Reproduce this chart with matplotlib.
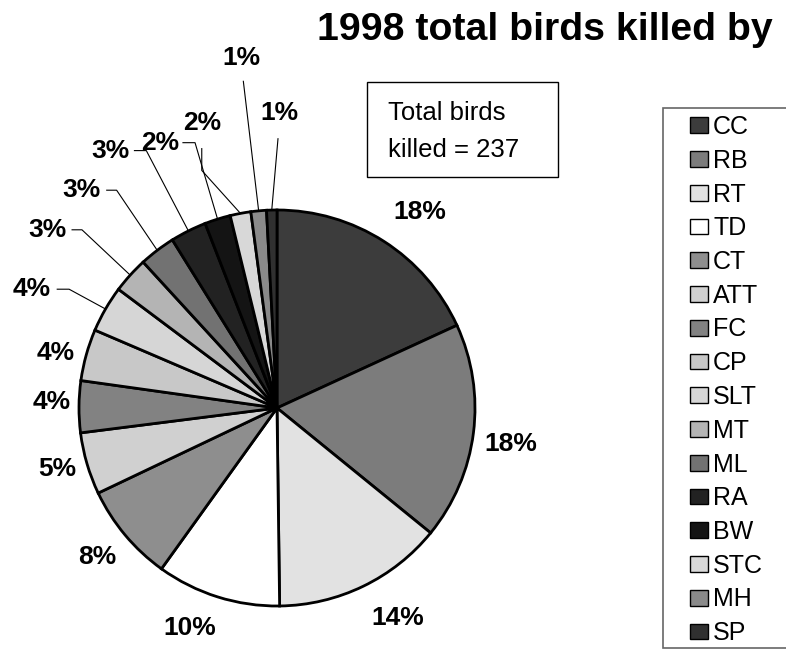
import numpy as np
import matplotlib
matplotlib.use("Agg")
import matplotlib.pyplot as plt
from matplotlib.patches import Rectangle, Patch

plt.rcParams['font.family'] = ['Liberation Sans', 'DejaVu Sans']

species = ['CC', 'RB', 'RT', 'TD', 'CT', 'ATT', 'FC', 'CP',
           'SLT', 'MT', 'ML', 'RA', 'BW', 'STC', 'MH', 'SP']
killed = [43, 42, 33, 24, 19, 12, 10, 10, 9, 7, 7, 7, 5, 4, 3, 2]
colors = ['#3c3c3c', '#7c7c7c', '#e2e2e2', '#ffffff', '#8e8e8e', '#d0d0d0',
          '#828282', '#c8c8c8', '#d6d6d6', '#b4b4b4', '#727272', '#222222',
          '#141414', '#d8d8d8', '#8a8a8a', '#303030']
total = sum(killed)

# label positions (pie radius units, center at 0,0) and leader start points
label_pos = [(0.72, 0.99), (1.18, -0.18), (0.61, -1.06), (-0.44, -1.11),
             (-0.91, -0.75), (-1.11, -0.31), (-1.14, 0.03), (-1.12, 0.28),
             (-1.24, 0.60), (-1.16, 0.90), (-0.99, 1.10), (-0.84, 1.30),
             (-0.59, 1.34), (-0.38, 1.44), (-0.18, 1.77), (0.01, 1.49)]
leaders = {8: [(-1.11, 0.60), (-1.05, 0.60)],
           9: [(-1.035, 0.90), (-0.985, 0.90)],
           10: [(-0.86, 1.10), (-0.81, 1.10)],
           11: [(-0.72, 1.30), (-0.66, 1.30)],
           12: [(-0.475, 1.34), (-0.414, 1.34)],
           13: [(-0.38, 1.31), (-0.38, 1.20)],
           14: [(-0.17, 1.65)],
           15: [(0.005, 1.36)]}

W, H = 786, 652
cx, cy, R = 277, 408, 198

fig = plt.figure(figsize=(W / 100, H / 100), dpi=100)
ax = fig.add_axes([0, 0, 1, 1])

wedges, _ = ax.pie(killed, colors=colors, startangle=90, counterclock=False,
                   radius=1.0, wedgeprops=dict(edgecolor='black', linewidth=2))
ax.set_aspect('auto')
ax.set_xlim(-cx / R, (W - cx) / R)
ax.set_ylim(-(H - cy) / R, cy / R)
ax.axis('off')

for i, w in enumerate(wedges):
    pct = round(100 * killed[i] / total)
    x, y = label_pos[i]
    ax.text(x, y, f'{pct}%', ha='center', va='center', fontsize=19,
            fontweight='bold')
    if i in leaders:
        mid = np.deg2rad((w.theta1 + w.theta2) / 2)
        pts = leaders[i] + [(np.cos(mid), np.sin(mid))]
        xs, ys = zip(*pts)
        ax.plot(xs, ys, color='black', linewidth=0.8)

fig.text(317 / W, 1 - 40 / H, '1998 total birds killed by', ha='left',
         va='baseline', fontsize=28.3, fontweight='bold')

fig.patches.append(Rectangle((367 / W, 1 - 177 / H), 191 / W, 95 / H,
                             transform=fig.transFigure, facecolor='white',
                             edgecolor='black', linewidth=1))
fig.text(388 / W, 1 - 120 / H, 'Total birds', ha='left', va='baseline',
         fontsize=18.5)
fig.text(388 / W, 1 - 157 / H, 'killed = 237', ha='left', va='baseline',
         fontsize=18.5)

fig.patches.append(Rectangle((663 / W, 1 - 648 / H), 200 / W, 540 / H,
                             transform=fig.transFigure, facecolor='white',
                             edgecolor='#666666', linewidth=1.2))
handles = [Patch(facecolor=c, edgecolor='black', linewidth=1) for c in colors]
fig.legend(handles, species, loc='upper left',
           bbox_to_anchor=(685 / W, 1 - 110 / H), frameon=False, fontsize=18,
           handlelength=0.72, handleheight=0.6, handletextpad=0.2,
           labelspacing=0.39, borderpad=0.2, borderaxespad=0)

fig.savefig('out.png', dpi=100)
